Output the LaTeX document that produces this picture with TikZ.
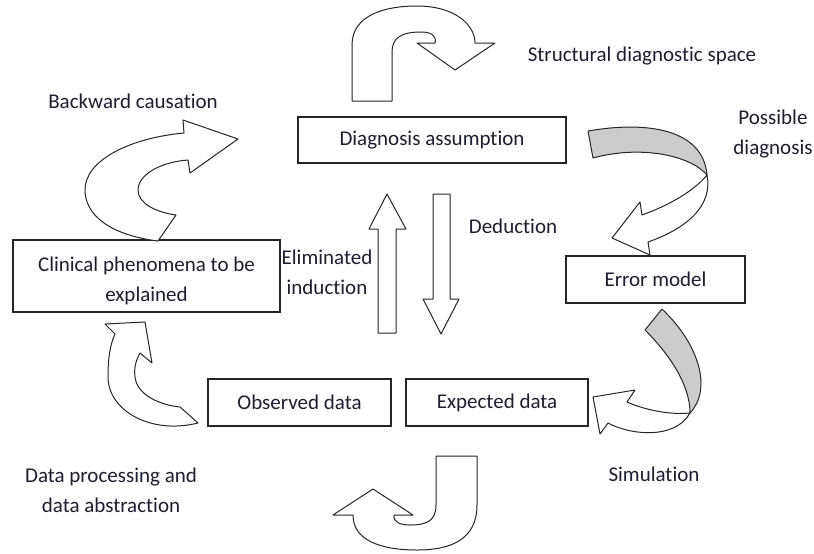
\documentclass[tikz,border=0pt]{standalone}
\usepackage{fontspec}
\setmainfont{Carlito}[Ligatures=NoCommon]
\usepackage{tikz}
\usetikzlibrary{positioning}
\definecolor{txt}{RGB}{30,30,45}
\definecolor{band}{RGB}{204,204,204}
\begin{document}
\begin{tikzpicture}[x=0.5pt,y=-0.5pt,
    every node/.style={font=\fontsize{10.5}{15}\selectfont,text=txt,inner sep=0pt},
    box/.style={draw=black!85,line width=0.6pt,rectangle,align=center},
    lbl/.style={align=center},
    blk/.style={draw=black!85,line width=0.5pt,fill=white,line join=round},
    back/.style={draw=black!85,line width=0.5pt,fill=band,line join=round}]
    \useasboundingbox (0,0) rectangle (814,553);
    \node[box,minimum width=134pt,minimum height=23pt] (da) at (432,140) {Diagnosis assumption};
    \node[box,minimum width=89.5pt,minimum height=23.5pt] (em) at (655.5,279.5) {Error model};
    \node[box,minimum width=133.5pt,minimum height=36pt] (cp) at (146.5,276) {\rule{0pt}{12pt}Clinical phenomena to be\\explained};
    \node[box,minimum width=91.5pt,minimum height=23.5pt] (od) at (299.5,402.5) {Observed data};
    \node[box,minimum width=91pt,minimum height=23.5pt] (ed) at (497,402.5) {Expected data};
    \node[lbl] (sds) at (642,56) {Structural diagnostic space};
    \node[lbl] (bc) at (133,101) {Backward causation};
    \node[lbl] (pd) at (773,134) {Possible\\diagnosis};
    \node[lbl] (dd) at (513,226) {Deduction};
    \node[lbl] (ei) at (327,272.5) {Eliminated\\induction};
    \node[lbl] (sim) at (654,474) {Simulation};
    \node[lbl] (dp) at (111,490) {Data processing and\\data abstraction};
    % straight arrows
    \draw[blk] (378,333) -- (378,229) -- (369,229) -- (387,194) -- (406,229) -- (396,229) -- (396,333) -- cycle;
    \draw[blk] (433,194) -- (433,299) -- (423,299) -- (441,334) -- (459,299) -- (450,299) -- (450,194) -- cycle;
    % top u-turn
    \draw[blk] (352,101) -- (352,45) .. controls (352,15) and (385,6) .. (417,6)
      .. controls (455,6) and (475,25) .. (475,43) -- (495,43) -- (455,70) -- (417,43) -- (435,43)
      .. controls (437,35) and (430,32) .. (421,32) .. controls (401,32) and (392,38) .. (392,52) -- (392,101) -- cycle;
    % bottom hook
    \draw[blk] (477,456) -- (477,505) .. controls (477,540) and (450,550) .. (417,550)
      .. controls (380,550) and (353,540) .. (353,515) -- (333,515) -- (373,489) -- (413,515) -- (394,515)
      .. controls (393,522) and (400,525) .. (410,525) .. controls (428,525) and (436,520) .. (436,505) -- (436,456) -- cycle;
    % backward causation
    \draw[blk] (158,241) .. controls (110,235) and (85,215) .. (85,190) .. controls (85,160) and (130,138) .. (184,133)
      -- (183,120) -- (238,139) -- (190,173) -- (188,160)
      .. controls (160,162) and (138,175) .. (138,190) .. controls (138,203) and (155,212) .. (176,215) -- cycle;
    % data processing
    \draw[blk] (198,423) .. controls (150,435) and (108,410) .. (108,377) .. controls (108,358) and (110,345) .. (115,334)
      -- (105,324) -- (145,322) -- (152,363) -- (140,353)
      .. controls (135,362) and (134,370) .. (135,377) .. controls (137,395) and (160,405) .. (180,407) -- cycle;
    % possible diagnosis
    \draw[back] (588,131) .. controls (645,121) and (703,128) .. (707,175)
      .. controls (690,155) and (640,145) .. (593,158) -- cycle;
    \draw[blk] (707,175) .. controls (713,205) and (688,228) .. (648,242) -- (650,255) -- (612,238) -- (640,202) -- (642,215)
      .. controls (670,205) and (695,190) .. (707,175) -- cycle;
    % simulation
    \draw[back] (645,330) -- (662,309) .. controls (700,345) and (712,390) .. (690,413)
      .. controls (690,385) and (670,355) .. (645,330) -- cycle;
    \draw[blk] (690,413) .. controls (670,415) and (645,410) .. (627,402) -- (635,390) -- (593,397) -- (600,434) -- (608,423)
      .. controls (630,435) and (675,440) .. (690,413) -- cycle;
\end{tikzpicture}
\end{document}
